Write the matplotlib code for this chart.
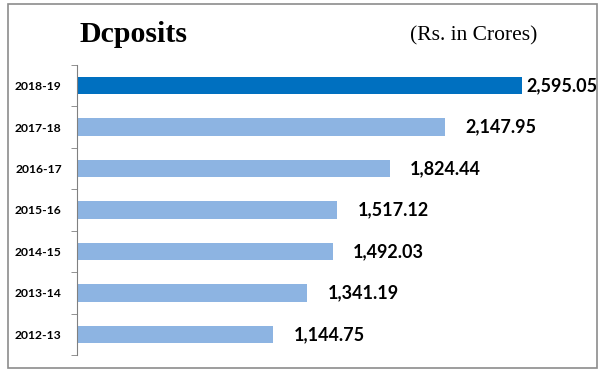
import matplotlib.pyplot as plt
from matplotlib.patches import Rectangle

anos = ["2012-13", "2013-14", "2014-15", "2015-16", "2016-17", "2017-18", "2018-19"]
depositos = [1144.75, 1341.19, 1492.03, 1517.12, 1824.44, 2147.95, 2595.05]

cor_clara = "#8DB4E2"
cor_escura = "#0070C0"

fig = plt.figure(figsize=(5.99, 3.72), dpi=100)

# moldura cinza em volta do quadro
fig.patches.append(Rectangle((8 / 599, 4 / 372), 589 / 599, 364 / 372,
                             transform=fig.transFigure, fill=False,
                             edgecolor="#8c8c8c", linewidth=1.2))

ax = fig.add_axes([77 / 599, 17 / 372, 514 / 599, 290 / 372])

pos = range(len(anos))
cores = [cor_clara] * (len(anos) - 1) + [cor_escura]
ax.barh(pos, depositos, height=0.42, color=cores)

for i, v in enumerate(depositos):
    desloc = 25 if i == len(anos) - 1 else 120
    ax.text(v + desloc, i, f"{v:,.2f}", va="center", ha="left",
            fontsize=13, fontweight="bold", family="Lato")

ax.set_xlim(0, 3000)
ax.set_ylim(-0.5, len(anos) - 0.5)
ax.set_yticks(list(pos))
ax.set_yticklabels(anos, fontsize=8.7, fontweight="bold", family="Lato")
ax.set_yticks([i - 0.5 for i in range(len(anos) + 1)], minor=True)
ax.tick_params(axis="y", which="major", length=0, pad=11)
ax.tick_params(axis="y", which="minor", length=4, color="#808080")
ax.set_xticks([])

for lado in ["top", "right", "bottom"]:
    ax.spines[lado].set_visible(False)
ax.spines["left"].set_color("#808080")

fig.text(80 / 599, 1 - 35 / 372, "Dcposits", fontsize=21.5, fontweight="bold",
         family="Liberation Serif", va="center", ha="left")
fig.text(410 / 599, 1 - 36 / 372, "(Rs. in Crores)", fontsize=15.5,
         family="Liberation Serif", va="center", ha="left")

plt.savefig("out.png", dpi=100)
